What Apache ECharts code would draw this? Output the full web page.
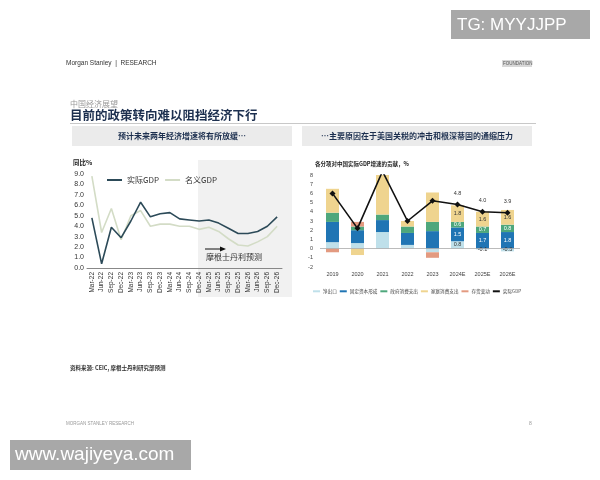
<!DOCTYPE html>
<html><head><meta charset="utf-8">
<script src="https://cdn.jsdelivr.net/npm/echarts@6/dist/echarts.min.js"></script>
<style>html,body{margin:0;padding:0;background:#fff}#c{width:600px;height:480px}</style>
</head><body><div id="c"></div>
<script>
// ---- Left chart data: China GDP YoY % ----
const quarters = ['Mar-22','Jun-22','Sep-22','Dec-22','Mar-23','Jun-23','Sep-23','Dec-23','Mar-24','Jun-24','Sep-24','Dec-24','Mar-25','Jun-25','Sep-25','Dec-25','Mar-26','Jun-26','Sep-26','Dec-26'];
const realGDP    = [4.8, 0.4, 3.9, 2.9, 4.5, 6.3, 4.9, 5.2, 5.3, 4.7, 4.6, 4.5, 4.6, 4.3, 3.8, 3.3, 3.3, 3.5, 4.0, 4.9];
const nominalGDP = [8.8, 3.4, 5.7, 2.7, 5.0, 5.5, 4.0, 4.2, 4.2, 4.0, 4.0, 3.7, 3.9, 3.5, 2.8, 2.2, 2.1, 2.5, 3.0, 4.0];
const leftYTicks = [0,1,2,3,4,5,6,7,8,9];

// ---- Right chart data: contributions to real GDP growth ----
const years = ['2019','2020','2021','2022','2023','2024E','2025E','2026E'];
const netExports   = [0.7, 0.6, 1.8, 0.4, -0.4, 0.8, -0.1, -0.3];
const fixedCapital = [2.2, 1.4, 1.3, 1.3, 1.9, 1.5, 1.7, 1.8];
const govConsump   = [1.0, 0.4, 0.6, 0.7, 1.0, 0.6, 0.7, 0.8];
const hhConsump    = [2.6, -0.7, 4.7, 0.6, 3.2, 1.8, 1.6, 1.6];
const inventory    = [-0.4, 0.5, 0, 0, -0.6, 0, 0, 0];
const realGDPAnnual = [6.0, 2.2, 8.4, 3.0, 5.2, 4.8, 4.0, 3.9];
const rightYTicks = [-2,-1,0,1,2,3,4,5,6,7,8];

const CJK = '"Noto Sans CJK SC", "Noto Sans", sans-serif';
const forecastStart = 5;
const lblFmt = p => (p.dataIndex >= forecastStart && p.value !== 0) ? p.value.toFixed(1) : '';

function barSeries(name, data, color, lblColor) {
  return {
    name, type: 'bar', data, stack: 'c', xAxisIndex: 1, yAxisIndex: 1,
    barWidth: 13, itemStyle: { color },
    label: { show: true, position: 'inside', formatter: lblFmt, fontSize: 5.5, color: lblColor, fontFamily: 'Arial' }
  };
}

const chart = echarts.init(document.getElementById('c'), null, { renderer: 'canvas' });
chart.setOption({
  backgroundColor: '#fff',
  animation: false,
  textStyle: { fontFamily: CJK },
  grid: [
    { left: 87, top: 174, width: 195, height: 94 },
    { left: 320, top: 175, width: 200, height: 92 }
  ],
  legend: [
    { left: 102, top: 171, itemWidth: 15, itemHeight: 2, itemGap: 6, icon: 'rect',
      textStyle: { fontSize: 8, color: '#333', fontFamily: CJK },
      data: ['实际GDP', '名义GDP'] },
    { left: 308, top: 284, width: 280, itemWidth: 7, itemHeight: 2, itemGap: 3,
      textStyle: { fontSize: 4.6, color: '#444', fontFamily: CJK, padding: [0, 0, 0, -2] },
      data: [{name:'净出口',icon:'rect'},{name:'固定资本形成',icon:'rect'},{name:'政府消费支出',icon:'rect'},{name:'家庭消费支出',icon:'rect'},{name:'存货变动',icon:'rect'},{name:'实际GDP ',icon:'rect'}] }
  ],
  xAxis: [
    { type: 'category', gridIndex: 0, data: quarters, boundaryGap: true,
      axisLine: { lineStyle: { color: '#888', width: 1 } }, axisTick: { show: false },
      axisLabel: { rotate: 90, interval: 0, fontSize: 6.5, color: '#333', margin: 4, fontFamily: 'Arial' } },
    { type: 'category', gridIndex: 1, data: years,
      axisLine: { show: false, onZero: false }, axisTick: { show: false },
      axisLabel: { fontSize: 5.5, color: '#444', margin: 4, fontFamily: 'Arial' } }
  ],
  yAxis: [
    { type: 'value', gridIndex: 0, min: leftYTicks[0], max: leftYTicks[leftYTicks.length-1], interval: 1,
      axisLine: { show: false }, axisTick: { show: false }, splitLine: { show: false },
      axisLabel: { fontSize: 7, color: '#333', margin: 3, formatter: v => v.toFixed(1), fontFamily: 'Arial' } },
    { type: 'value', gridIndex: 1, min: rightYTicks[0], max: rightYTicks[rightYTicks.length-1], interval: 1,
      axisLine: { show: false }, axisTick: { show: false }, splitLine: { show: false },
      axisLabel: { fontSize: 5.5, color: '#444', margin: 7, fontFamily: 'Arial' } }
  ],
  series: [
    { name: '名义GDP', type: 'line', data: nominalGDP, smooth: false, showSymbol: false, xAxisIndex: 0, yAxisIndex: 0,
      lineStyle: { color: '#d3dcc6', width: 1.6 }, itemStyle: { color: '#d3dcc6' }, z: 3 },
    { name: '实际GDP', type: 'line', data: realGDP, smooth: false, showSymbol: false, xAxisIndex: 0, yAxisIndex: 0,
      lineStyle: { color: '#2c4a58', width: 1.6 }, itemStyle: { color: '#2c4a58' }, z: 4 },
    Object.assign(barSeries('净出口', netExports, '#bfe0ea', '#333'), {
      markLine: { silent: true, symbol: 'none', label: { show: false }, lineStyle: { color: '#aaa', width: 0.8, type: 'solid' }, data: [{ yAxis: 0 }] } }),
    barSeries('固定资本形成', fixedCapital, '#2075b4', '#fff'),
    barSeries('政府消费支出', govConsump, '#4ea77c', '#fff'),
    barSeries('家庭消费支出', hhConsump, '#efd48f', '#333'),
    barSeries('存货变动', inventory, '#e39a80', '#333'),
    { name: '实际GDP ', type: 'line', data: realGDPAnnual, xAxisIndex: 1, yAxisIndex: 1,
      symbol: 'diamond', symbolSize: 6, clip: true,
      lineStyle: { color: '#111', width: 1.6 }, itemStyle: { color: '#111' }, z: 5,
      label: { show: true, position: 'top', distance: 5, formatter: lblFmt, fontSize: 5.5, color: '#333', fontFamily: 'Arial' } }
  ],
  graphic: [
    { type: 'rect', z: -1, shape: { x: 198, y: 160, width: 94, height: 137 }, style: { fill: '#f1f1f1' } },
    { type: 'text', left: 66, top: 60, style: { text: 'Morgan Stanley  |  RESEARCH', fontSize: 6.5, fill: '#333', font: '6.5px Arial' } },
    { type: 'rect', shape: { x: 502, y: 60, width: 30, height: 7 }, style: { fill: '#d8d8d8' } },
    { type: 'text', left: 503, top: 61, style: { text: 'FOUNDATION', font: '4.5px Arial', fill: '#555' } },
    { type: 'text', left: 70, top: 100, style: { text: '中国经济展望', font: '8px "Noto Sans CJK SC"', fill: '#9a9a9a' } },
    { type: 'text', left: 70, top: 109, style: { text: '目前的政策转向难以阻挡经济下行', font: 'bold 12.5px "Noto Sans CJK SC"', fill: '#1c2f4f' } },
    { type: 'line', shape: { x1: 70, y1: 123.5, x2: 536, y2: 123.5 }, style: { stroke: '#c8c8c8', lineWidth: 1 } },
    { type: 'rect', shape: { x: 72, y: 126, width: 220, height: 20 }, style: { fill: '#ebebeb' } },
    { type: 'rect', shape: { x: 302, y: 126, width: 230, height: 20 }, style: { fill: '#ebebeb' } },
    { type: 'text', x: 182, y: 136, style: { text: '预计未来两年经济增速将有所放缓…', font: 'bold 8px "Noto Sans CJK SC"', fill: '#1c2f4f', align: 'center', verticalAlign: 'middle' } },
    { type: 'text', x: 417, y: 136, style: { text: '…主要原因在于美国关税的冲击和根深蒂固的通缩压力', font: 'bold 8px "Noto Sans CJK SC"', fill: '#1c2f4f', align: 'center', verticalAlign: 'middle' } },
    { type: 'text', left: 73, top: 159, style: { text: '同比%', font: 'bold 6.5px "Noto Sans CJK SC"', fill: '#222' } },
    { type: 'text', left: 315, top: 161, style: { text: '各分项对中国实际GDP增速的贡献，%', font: 'bold 5.5px "Noto Sans CJK SC"', fill: '#222' } },
    { type: 'line', shape: { x1: 205, y1: 249, x2: 221, y2: 249 }, style: { stroke: '#111', lineWidth: 1 } },
    { type: 'polygon', shape: { points: [[220, 246.5], [226, 249], [220, 251.5]] }, style: { fill: '#111' } },
    { type: 'text', left: 206, top: 253, style: { text: '摩根士丹利预测', font: '8px "Noto Sans CJK SC"', fill: '#333' } },
    { type: 'text', left: 70, top: 365, style: { text: '资料来源: CEIC, 摩根士丹利研究部预测', font: 'bold 5.5px "Noto Sans CJK SC"', fill: '#333' } },
    { type: 'text', left: 66, top: 421, style: { text: 'MORGAN STANLEY RESEARCH', font: '4.5px Arial', fill: '#999' } },
    { type: 'text', left: 529, top: 421, style: { text: '8', font: '5px Arial', fill: '#999' } },
    { type: 'rect', shape: { x: 451, y: 10, width: 139, height: 29 }, style: { fill: '#a8a8a8' } },
    { type: 'text', x: 457, y: 25, style: { text: 'TG: MYYJJPP', font: '17px "Liberation Sans", Arial', fill: '#fff', verticalAlign: 'middle' } },
    { type: 'rect', shape: { x: 10, y: 440, width: 181, height: 30 }, style: { fill: '#a8a8a8' } },
    { type: 'text', x: 15, y: 455, style: { text: 'www.wajiyeya.com', font: '19px "Liberation Sans", Arial', fill: '#fff', verticalAlign: 'middle' } }
  ]
});
</script></body></html>
